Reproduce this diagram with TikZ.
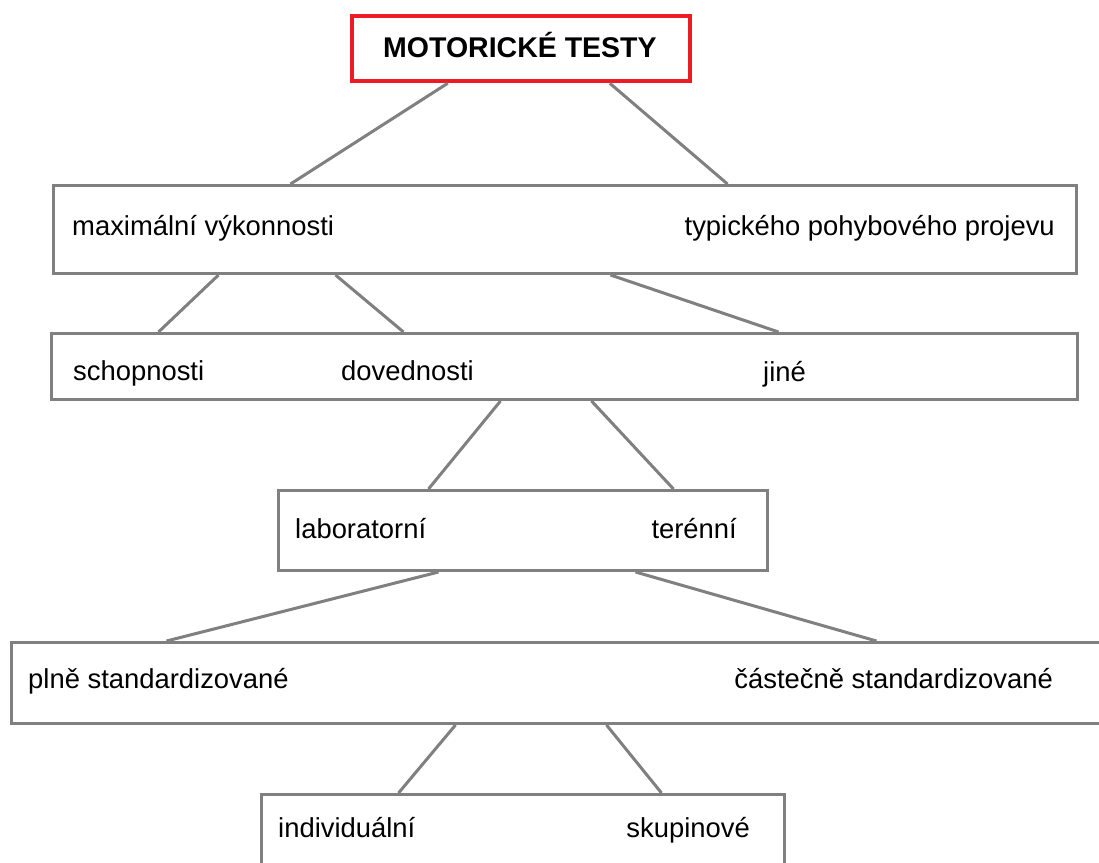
\documentclass[tikz,border=0pt]{standalone}
\usepackage{fontspec}
\setmainfont{Liberation Sans}
\definecolor{boxgray}{HTML}{808080}
\definecolor{topred}{HTML}{ED1C24}
\begin{document}
\begin{tikzpicture}[x=1pt,y=-1pt,
  box/.style={draw=boxgray,line width=3pt,rectangle,inner sep=0pt},
  redbox/.style={draw=topred,line width=4.5pt,rectangle,inner sep=0pt},
  lbl/.style={inner sep=0pt,font=\fontsize{27.4}{32}\selectfont},
  conn/.style={draw=boxgray,line width=3pt}]
\useasboundingbox[fill=white] (0,0) rectangle (1099,862);
% boxes
\node[redbox,minimum width=338pt,minimum height=65pt] (top) at (521,48.5) {};
\node[box,minimum width=1023pt,minimum height=88pt] (b2) at (565,229.5) {};
\node[box,minimum width=1026pt,minimum height=66pt] (b3) at (564.5,366.5) {};
\node[box,minimum width=489pt,minimum height=80pt] (b4) at (523,530.5) {};
\node[box,minimum width=1100pt,minimum height=81pt] (b5) at (561.5,683) {};
\node[box,minimum width=523pt,minimum height=86pt] (b6) at (523,837.5) {};
% labels
\node[lbl,anchor=base west,font=\fontsize{28.5}{33}\selectfont\bfseries] (tt) at (383,57) {MOTORICKÉ TESTY};
\node[lbl,anchor=base west] (max) at (72,235) {maximální výkonnosti};
\node[lbl,anchor=base east] (typ) at (1055,235) {typického pohybového projevu};
\node[lbl,anchor=base west] (sch) at (73,380) {schopnosti};
\node[lbl,anchor=base west] (dov) at (341,380) {dovednosti};
\node[lbl,anchor=base west] (jin) at (763,381) {jiné};
\node[lbl,anchor=base west] (lab) at (295,538) {laboratorní};
\node[lbl,anchor=base east] (ter) at (737,538) {terénní};
\node[lbl,anchor=base west] (pln) at (28,688) {plně standardizované};
\node[lbl,anchor=base east] (cas) at (1053,688) {částečně standardizované};
\node[lbl,anchor=base west] (ind) at (278,837) {individuální};
\node[lbl,anchor=base east] (sku) at (750,837) {skupinové};
% connectors
\draw[conn] ([xshift=98pt]top.south west) -- ([xshift=238.5pt]b2.north west);
\draw[conn] ([xshift=260pt]top.south west) -- ([xshift=675.5pt]b2.north west);
\draw[conn] ([xshift=166.5pt]b2.south west) -- ([xshift=108.5pt]b3.north west);
\draw[conn] ([xshift=283.5pt]b2.south west) -- ([xshift=353.5pt]b3.north west);
\draw[conn] ([xshift=558.5pt]b2.south west) -- ([xshift=728.5pt]b3.north west);
\draw[conn] ([xshift=450.5pt]b3.south west) -- ([xshift=151.5pt]b4.north west);
\draw[conn] ([xshift=541.5pt]b3.south west) -- ([xshift=396.5pt]b4.north west);
\draw[conn] ([xshift=161.5pt]b4.south west) -- ([xshift=156.5pt]b5.north west);
\draw[conn] ([xshift=358.5pt]b4.south west) -- ([xshift=866.5pt]b5.north west);
\draw[conn] ([xshift=445.5pt]b5.south west) -- ([xshift=138.5pt]b6.north west);
\draw[conn] ([xshift=596.5pt]b5.south west) -- ([xshift=401.5pt]b6.north west);
\end{tikzpicture}
\end{document}
